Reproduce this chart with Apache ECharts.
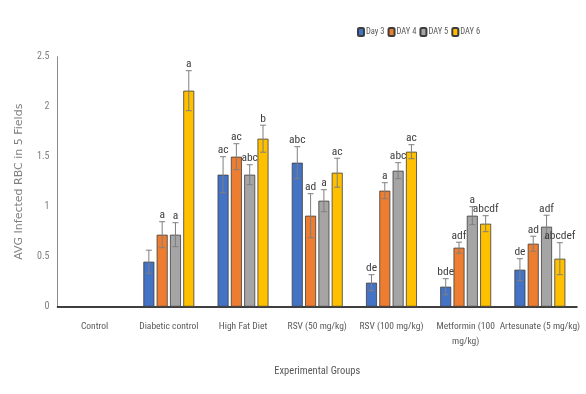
<!DOCTYPE html>
<html>
<head>
<meta charset="utf-8">
<script src="https://cdn.jsdelivr.net/npm/echarts@6/dist/echarts.min.js"></script>
<style>
  html, body { margin: 0; padding: 0; background: #ffffff; }
  #chart { width: 586px; height: 394px; }
</style>
</head>
<body>
<div id="chart"></div>
<script>
// Experimental groups on the x axis
const groups = ['Control', 'Diabetic control', 'High Fat Diet', 'RSV (50 mg/kg)',
  'RSV (100 mg/kg)', 'Metformin (100 mg/kg)', 'Artesunate (5 mg/kg)'];
const dayNames = ['Day 3', 'DAY 4', 'DAY 5', 'DAY 6'];

// Mean infected RBC count (5 fields) per group
const day3 = [0, 0.45, 1.32, 1.44, 0.24, 0.20, 0.37];
const day4 = [0, 0.72, 1.50, 0.91, 1.16, 0.59, 0.63];
const day5 = [0, 0.72, 1.32, 1.06, 1.36, 0.91, 0.80];
const day6 = [0, 2.16, 1.68, 1.34, 1.55, 0.83, 0.48];

// Error bar half-widths
const day3Err = [0, 0.115, 0.18, 0.16, 0.08, 0.08, 0.11];
const day4Err = [0, 0.13, 0.13, 0.22, 0.08, 0.055, 0.075];
const day5Err = [0, 0.12, 0.10, 0.11, 0.08, 0.09, 0.115];
const day6Err = [0, 0.20, 0.135, 0.145, 0.07, 0.08, 0.16];

// Significance letters
const day3Sig = ['', '', 'ac', 'abc', 'de', 'bde', 'de'];
const day4Sig = ['', 'a', 'ac', 'ad', 'a', 'adf', 'ad'];
const day5Sig = ['', 'a', 'abc', 'a', 'abc', 'a', 'adf'];
const day6Sig = ['', 'a', 'b', 'ac', 'ac', 'abcdf', 'abcdef'];

const yTicks = [0, 0.5, 1, 1.5, 2, 2.5];

const means = [day3, day4, day5, day6];
const errs = [day3Err, day4Err, day5Err, day6Err];
const sigs = [day3Sig, day4Sig, day5Sig, day6Sig];
const fills = ['#4472C4', '#ED7D31', '#A5A5A5', '#FFC000'];

const FONT = "'Roboto Condensed', Carlito, sans-serif";
const BAR_W = 11;
const BAR_GAP = 0.21; // fraction of bar width
const PITCH = BAR_W * (1 + BAR_GAP);

const chart = echarts.init(document.getElementById('chart'), null, { renderer: 'canvas' });

const barSeries = dayNames.map((name, k) => ({
  name: name,
  type: 'bar',
  data: means[k],
  barWidth: BAR_W,
  barGap: (BAR_GAP * 100) + '%',
  itemStyle: { color: fills[k], borderColor: '#3d3d3d', borderWidth: 0.8 },
  emphasis: { disabled: true },
  z: 2
}));

// Error bars + significance letters for each day
const errSeries = dayNames.map((name, k) => ({
  type: 'custom',
  name: name + ' err',
  data: means[k].map((v, i) => [i, v, errs[k][i]]),
  encode: { x: 0, y: 1 },
  z: 5,
  silent: true,
  renderItem: function (params, api) {
    const i = api.value(0);
    const v = api.value(1);
    const e = api.value(2);
    const sig = sigs[k][i];
    if (!v && !e) return null;
    const off = (k - 1.5) * PITCH;
    const c = api.coord([i, v]);
    const top = api.coord([i, v + e]);
    const bot = api.coord([i, v - e]);
    const x = c[0] + off;
    const cap = 3;
    const ls = { stroke: '#7f7f7f', lineWidth: 1 };
    const children = [
      { type: 'line', shape: { x1: x, y1: top[1], x2: x, y2: bot[1] }, style: ls },
      { type: 'line', shape: { x1: x - cap, y1: top[1], x2: x + cap, y2: top[1] }, style: ls },
      { type: 'line', shape: { x1: x - cap, y1: bot[1], x2: x + cap, y2: bot[1] }, style: ls }
    ];
    if (sig) {
      children.push({
        type: 'text',
        style: {
          text: sig, x: x, y: top[1] - 0.5,
          align: 'center', verticalAlign: 'bottom',
          font: '11.5px ' + FONT, fill: '#404040'
        }
      });
    }
    return { type: 'group', children: children };
  }
}));

chart.setOption({
  animation: false,
  backgroundColor: '#ffffff',
  grid: { left: 57.5, right: 9, top: 56.7, bottom: 87.3 },
  legend: {
    data: dayNames,
    left: 352, top: 22,
    itemWidth: 6, itemHeight: 8, itemGap: 3,
    textStyle: { fontSize: 8.5, fontFamily: FONT, color: '#595959', padding: [0, 0, 0, -3] }
  },
  xAxis: {
    type: 'category',
    data: groups,
    name: 'Experimental Groups',
    nameLocation: 'middle',
    nameGap: 59,
    nameTextStyle: { fontSize: 10.5, fontFamily: FONT, color: '#595959' },
    axisLine: { lineStyle: { color: '#000000', width: 1.5 } },
    axisTick: { show: false },
    axisLabel: {
      interval: 0, margin: 12, fontSize: 9.5, fontFamily: FONT, color: '#595959', lineHeight: 15,
      formatter: v => v === 'Metformin (100 mg/kg)' ? 'Metformin (100\nmg/kg)' : v
    }
  },
  yAxis: {
    type: 'value',
    min: yTicks[0], max: yTicks[yTicks.length - 1], interval: 0.5,
    name: 'AVG Infected RBC in 5 Fields',
    nameLocation: 'middle',
    nameGap: 33,
    nameRotate: 90,
    nameTextStyle: { fontSize: 11, fontFamily: 'DejaVu Sans', color: '#7f7f7f' },
    axisLine: { show: true, lineStyle: { color: '#8c8c8c', width: 1 } },
    axisTick: { show: false },
    splitLine: { show: false },
    axisLabel: { margin: 8, fontSize: 10, fontFamily: FONT, color: '#7f7f7f' }
  },
  series: barSeries.concat(errSeries)
});
</script>
</body>
</html>
